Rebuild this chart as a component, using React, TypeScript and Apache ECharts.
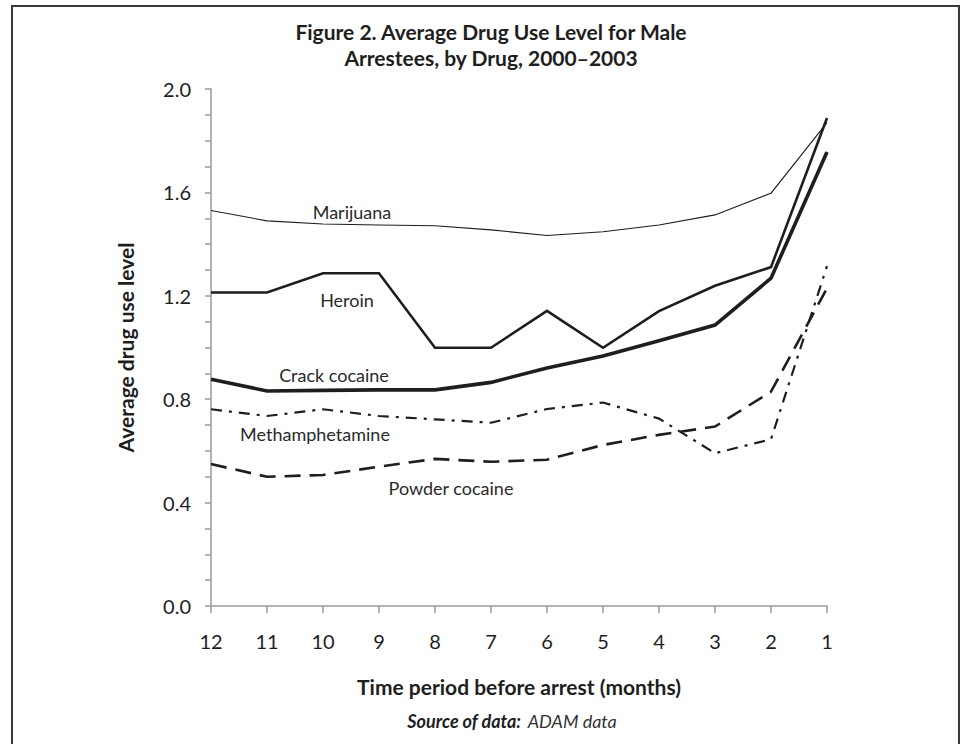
import React, { useEffect, useRef } from "react";
import * as echarts from "echarts";

const categories = ["12", "11", "10", "9", "8", "7", "6", "5", "4", "3", "2", "1"];
const marijuana = [1.53, 1.49, 1.478, 1.474, 1.471, 1.455, 1.433, 1.448, 1.474, 1.513, 1.597, 1.87];
const heroin = [1.213, 1.213, 1.287, 1.287, 0.999, 0.999, 1.142, 0.999, 1.141, 1.239, 1.311, 1.888];
const crack = [0.877, 0.832, 0.834, 0.836, 0.836, 0.865, 0.921, 0.967, 1.026, 1.087, 1.268, 1.756];
const meth = [0.761, 0.735, 0.761, 0.735, 0.722, 0.709, 0.762, 0.787, 0.725, 0.591, 0.645, 1.315];
const powder = [0.549, 0.5, 0.507, 0.539, 0.569, 0.558, 0.566, 0.623, 0.662, 0.694, 0.829, 1.229];

const FONT = "Lato";
const INK = "#1e1e1e";
const AXIS = "#9a9a9a";

export default function App() {
  const ref = useRef<HTMLDivElement>(null);
  useEffect(() => {
    if (!ref.current) return;
    const chart = echarts.init(ref.current, null, { renderer: "svg" });
    const lineSeries = (name: string, data: number[], width: number, type: any) => ({
      name,
      type: "line",
      data,
      symbol: "none",
      lineStyle: { color: INK, width, type, cap: "butt", join: "miter" },
      z: 3,
    });
    const label = (text: string, x: number, y: number) => ({
      type: "text",
      x,
      y,
      style: {
        text,
        fill: "#2a2a2a",
        font: `18px ${FONT}`,
        align: "center",
        verticalAlign: "middle",
      },
    });
    chart.setOption({
      animation: false,
      backgroundColor: "#fff",
      textStyle: { fontFamily: FONT },
      grid: { left: 211, right: 137, top: 89, bottom: 138, containLabel: false },
      xAxis: {
        type: "category",
        data: categories,
        boundaryGap: false,
        name: "Time period before arrest (months)",
        nameLocation: "middle",
        nameGap: 70,
        nameTextStyle: { fontFamily: FONT, fontWeight: "bold", fontSize: 21, color: INK },
        axisLine: { lineStyle: { color: AXIS, width: 1.5 } },
        axisTick: { show: true, length: 7, lineStyle: { color: AXIS, width: 1.5 } },
        axisLabel: { fontFamily: FONT, fontSize: 20, color: INK, margin: 25 },
        splitLine: { show: false },
      },
      yAxis: {
        type: "value",
        min: 0,
        max: 2,
        interval: 0.4,
        name: "Average drug use level",
        nameLocation: "middle",
        nameGap: 75,
        nameRotate: 90,
        nameTextStyle: { fontFamily: FONT, fontWeight: "bold", fontSize: 21, color: INK },
        axisLine: { show: true, lineStyle: { color: AXIS, width: 1.5 } },
        axisTick: { show: true, length: 6, lineStyle: { color: AXIS, width: 1.5 } },
        minorTick: { show: true, splitNumber: 4, length: 6, lineStyle: { color: AXIS, width: 1.5 } },
        axisLabel: {
          fontFamily: FONT,
          fontSize: 20,
          color: INK,
          margin: 20,
          formatter: (v: number) => v.toFixed(1),
        },
        splitLine: { show: false },
        minorSplitLine: { show: false },
      },
      series: [
        lineSeries("Marijuana", marijuana, 1.1, "solid"),
        lineSeries("Heroin", heroin, 2.6, "solid"),
        lineSeries("Crack cocaine", crack, 3.6, "solid"),
        lineSeries("Methamphetamine", meth, 2.2, [11, 7, 3, 7]),
        lineSeries("Powder cocaine", powder, 2.6, [16, 9]),
      ],
      graphic: [
        {
          type: "rect",
          shape: { x: 12, y: 6, width: 947, height: 800 },
          style: { fill: "none", stroke: "#3a3a3a", lineWidth: 2 },
          z: 10,
        },
        {
          type: "text",
          x: 491,
          y: 18,
          style: {
            text: "Figure 2. Average Drug Use Level for Male\nArrestees, by Drug, 2000\u20132003",
            fill: INK,
            font: `bold 21px ${FONT}`,
            lineHeight: 26,
            align: "center",
            verticalAlign: "top",
          },
        },
        label("Marijuana", 352, 212),
        label("Heroin", 347, 300),
        label("Crack cocaine", 334, 375),
        label("Methamphetamine", 315, 434),
        label("Powder cocaine", 451, 488),
        {
          type: "text",
          x: 512,
          y: 721,
          style: {
            text: "{b|Source of data:}  {i|ADAM data}",
            align: "center",
            verticalAlign: "middle",
            rich: {
              b: { fontFamily: FONT, fontSize: 18, fontWeight: "bold", fontStyle: "italic", fill: INK },
              i: { fontFamily: FONT, fontSize: 18, fontStyle: "italic", fill: "#333" },
            },
          },
        },
      ],
    });
    return () => chart.dispose();
  }, []);
  return (
    <div
      ref={ref}
      style={{ position: "fixed", left: 0, top: 0, width: 964, height: 744 }}
    />
  );
}
